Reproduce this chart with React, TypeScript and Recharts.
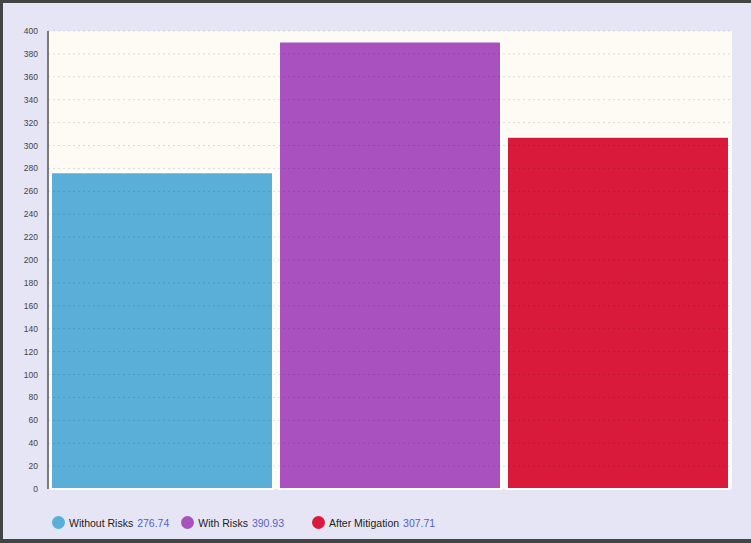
import { BarChart, Bar, XAxis, YAxis, CartesianGrid, Cell, ReferenceLine } from 'recharts';

const categories = ['Without Risks', 'With Risks', 'After Mitigation'];
const costs = [276.74, 390.93, 307.71];
const colors = ['#5aafd9', '#a952bf', '#da1a3b'];
const yTicks = [0, 20, 40, 60, 80, 100, 120, 140, 160, 180, 200, 220, 240, 260, 280, 300, 320, 340, 360, 380, 400];

const data = categories.map((name, i) => ({ name, value: costs[i] }));

const font = '"Liberation Sans", Arial, sans-serif';
const legendGaps = [12, 28, 0];

function LegendRow() {
  return (
    <div
      style={{
        position: 'absolute',
        left: 49,
        top: 513,
        display: 'flex',
        alignItems: 'center',
        fontFamily: font,
        fontSize: 10.5,
        color: '#222',
      }}
    >
      {categories.map((c, i) => (
        <div key={c} style={{ display: 'flex', alignItems: 'center', marginRight: legendGaps[i] }}>
          <span
            style={{
              width: 13,
              height: 13,
              borderRadius: '50%',
              background: colors[i],
              display: 'inline-block',
              marginRight: 4,
            }}
          />
          <span>{c}</span>
          <span style={{ color: '#5561c9', marginLeft: 4 }}>{costs[i].toFixed(2)}</span>
        </div>
      ))}
    </div>
  );
}

export default function App() {
  return (
    <div
      style={{
        position: 'absolute',
        left: 0,
        top: 0,
        width: 751,
        height: 543,
        boxSizing: 'border-box',
        background: '#e6e5f5',
        borderTop: '3px solid #444',
        borderLeft: '3px solid #444',
        borderBottom: '4px solid #444',
        overflow: 'hidden',
      }}
    >
      <div style={{ position: 'absolute', left: -3, top: -3 }}>
        <BarChart
          width={751}
          height={543}
          data={data}
          margin={{ top: 31, right: 19, bottom: 54, left: 8 }}
          barCategoryGap={3}
        >
          <CartesianGrid horizontal={false} vertical={false} fill="#fdfbf3" stroke="none" />
          <XAxis dataKey="name" hide />
          <YAxis
            width={40}
            domain={[0, 400]}
            ticks={yTicks}
            interval={0}
            tickLine={false}
            axisLine={{ stroke: '#555', strokeWidth: 1.5 }}
            tick={{ fontSize: 8.5, fill: '#444', fontFamily: font }}
            tickMargin={4}
          />
          <Bar dataKey="value" isAnimationActive={false} stroke="#ffffff" strokeWidth={2}>
            {data.map((d, i) => (
              <Cell key={d.name} fill={colors[i]} />
            ))}
          </Bar>
          {yTicks.slice(1).map((t) => (
            <ReferenceLine key={t} y={t} stroke="rgba(0,0,0,0.13)" strokeDasharray="2 3" />
          ))}
        </BarChart>
      </div>
      <LegendRow />
    </div>
  );
}
